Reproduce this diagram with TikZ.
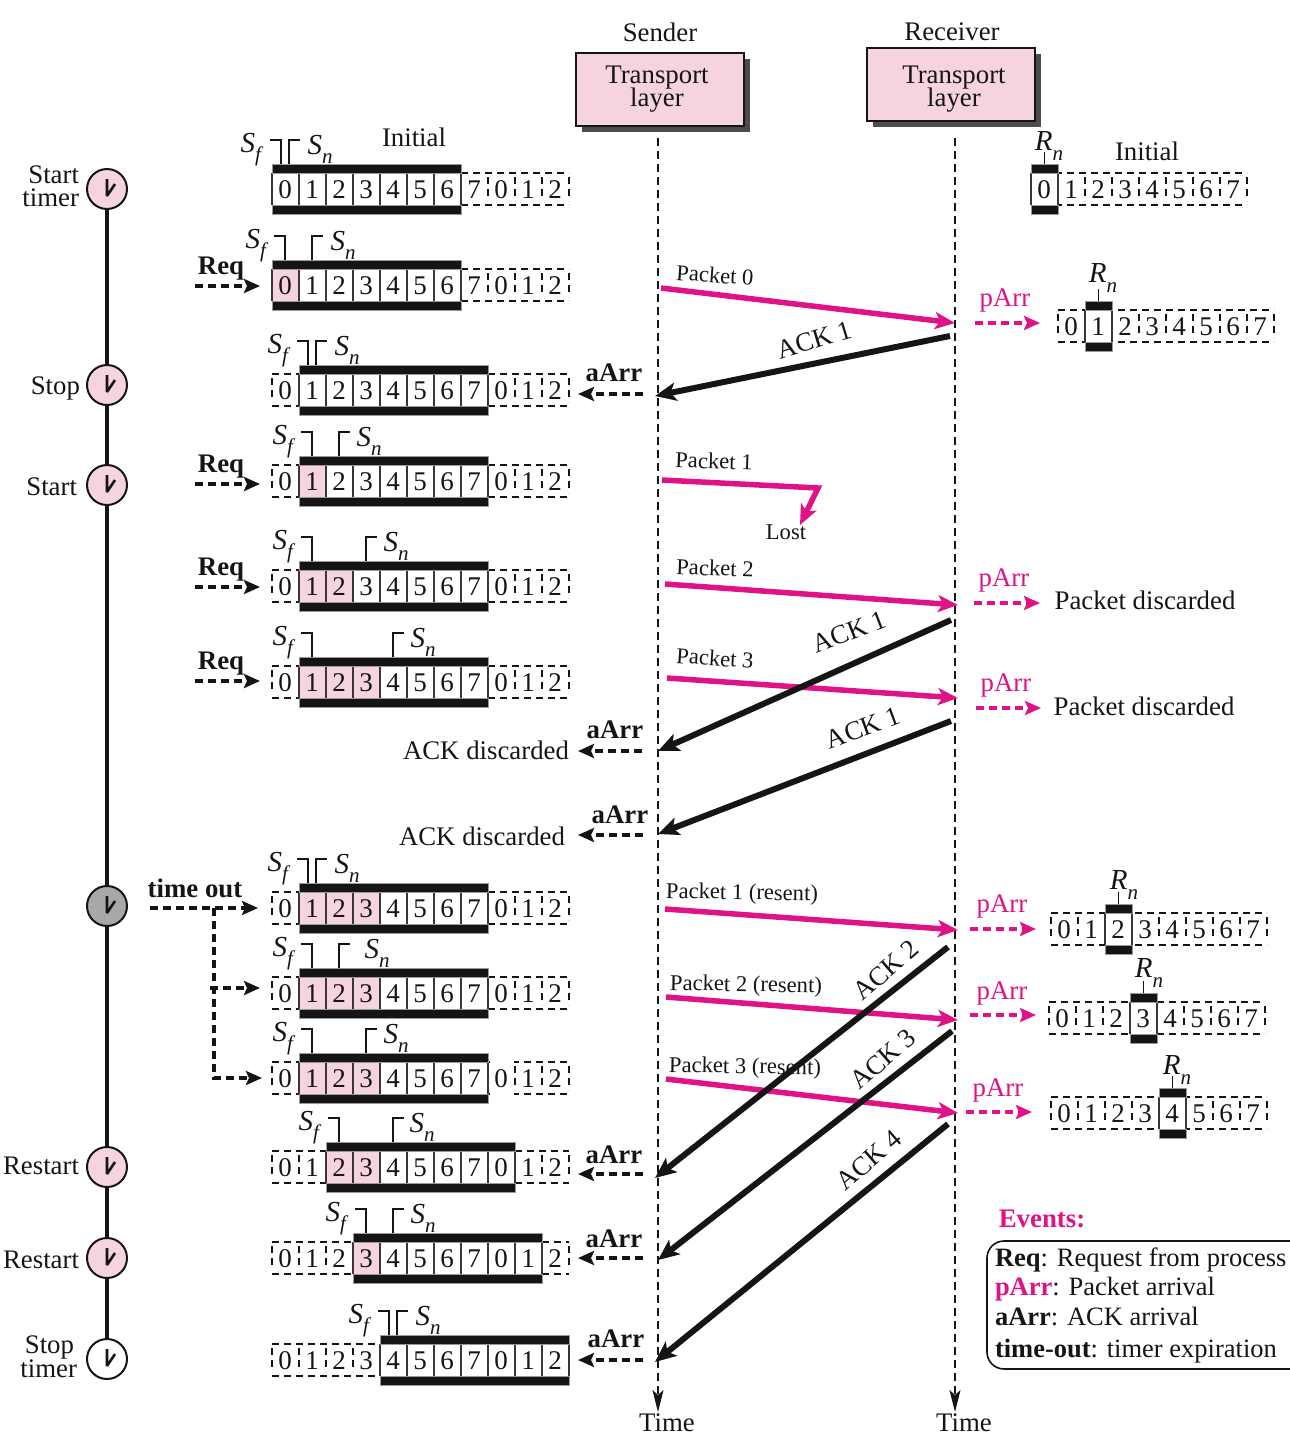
\documentclass[tikz,border=0pt]{standalone}
\usepackage{fontspec}
\setmainfont{Liberation Serif}
\usetikzlibrary{arrows.meta}
\definecolor{pk}{HTML}{F5D3E0}
\definecolor{mg}{HTML}{DF1286}
\definecolor{ink}{HTML}{151515}
\definecolor{clk}{HTML}{A8A8A8}
\newcommand\fs[1]{\fontsize{#1}{#1}\selectfont}
\newcommand\subv[2]{\textit{#1}\raisebox{-0.32em}{\textit{\fs{21}#2}}}
\tikzset{
  txt/.style={inner sep=0pt,outer sep=0pt,text=ink,font=\fs{26.8}},
  lab/.style={txt,font=\fs{22.6}},
  evb/.style={txt,font=\fs{26.8}\bfseries},
  evm/.style={txt,text=mg,font=\fs{26.8}},
  dig/.style={txt,font=\fs{27}},
  dsh/.style={draw=ink,line width=1.5pt,dash pattern=on 7pt off 5pt},
  cellb/.style={draw=ink!85,line width=1.8pt},
  bar/.style={fill=ink,draw=black!40,line width=1pt},
  brk/.style={draw=ink,line width=1.2pt},
  pkt/.style={draw=mg,line width=5.5pt,-{Stealth[length=20pt,width=17pt,inset=5pt]}},
  ack/.style={draw=ink,line width=6pt,-{Stealth[length=21pt,width=18pt,inset=5pt]}},
  evk/.style={draw=ink,line width=3.4pt,dash pattern=on 8pt off 5pt,-{Stealth[length=16pt,width=14pt,inset=3pt]}},
  evp/.style={draw=mg,line width=3.4pt,dash pattern=on 8pt off 5pt,-{Stealth[length=16pt,width=14pt,inset=3pt]}},
  life/.style={draw=ink,line width=1.4pt,dash pattern=on 8pt off 5pt,-{Stealth[length=22pt,width=11pt,inset=5pt]}},
  tbox/.style={draw=ink,fill=pk,line width=1.8pt},
  tshadow/.style={fill=black!70},
  clock/.style={circle,draw=ink,line width=2pt,minimum size=40pt,inner sep=0pt},
  hand/.style={draw=ink,line width=2.6pt,line join=bevel},
}
% sender window: centre y, first solid cell, end solid cell, pink from, pink end, Sf bar x, Sn bar x, Sf label x, Sn label x
\newcommand\swin[9]{%
  \pgfmathsetmacro\xa{272+27*#2}\pgfmathsetmacro\xb{272+27*#3}%
  \ifnum#2>0 \draw[dsh] (272,#1-16) -- (\xa,#1-16); \draw[dsh] (272,#1+16) -- (\xa,#1+16);\fi
  \ifnum#3<11 \draw[dsh] (\xb,#1-16) -- (569,#1-16); \draw[dsh] (\xb,#1+16) -- (569,#1+16);\fi
  \foreach \k in {0,...,11}{%
    \ifnum\k<#2 \pgfmathsetmacro\xk{272+27*\k}\draw[dsh] (\xk,#1-12) -- (\xk,#1+12);\fi
    \ifnum\k>#3 \pgfmathsetmacro\xk{272+27*\k}\draw[dsh] (\xk,#1-12) -- (\xk,#1+12);\fi
  }%
  \fill[white] (\xa,#1-16) rectangle (\xb,#1+16);
  \ifnum#5>#4 \pgfmathsetmacro\xp{272+27*#4}\pgfmathsetmacro\xq{272+27*#5}\fill[pk] (\xp,#1-16) rectangle (\xq,#1+16);\fi
  \foreach \k in {#2,...,#3}{\pgfmathsetmacro\xk{272+27*\k}\draw[cellb] (\xk,#1-16) -- (\xk,#1+16);}%
  \filldraw[bar] (\xa,#1-25) rectangle (\xb,#1-16);
  \filldraw[bar] (\xa,#1+16) rectangle (\xb,#1+25);
  \foreach \k in {0,...,10}{%
    \pgfmathsetmacro\xk{285+27*\k}\pgfmathtruncatemacro\dk{mod(\k,8)}%
    \node[dig] (c#1-\k) at (\xk,#1+0.8) {\dk};}%
  \draw[brk] (#6,#1-25) -- (#6,#1-49) -- (#6-11,#1-49);
  \draw[brk] (#7,#1-25) -- (#7,#1-49) -- (#7+11,#1-49);
  \node[txt,font=\fs{29}] (sf#1) at (#8,#1-39.5) {\subv{S}{f}};
  \node[txt,font=\fs{29}] (sn#1) at (#9,#1-39.5) {\subv{S}{n}};
}
% receiver window: centre y, left x, solid cell, Rn label position
\newcommand\rwin[4]{%
  \pgfmathsetmacro\xa{#2+27*#3}\pgfmathsetmacro\xb{\xa+27}\pgfmathsetmacro\xe{#2+216}%
  \draw[dsh] (#2,#1-16) -- (\xe,#1-16); \draw[dsh] (#2,#1+16) -- (\xe,#1+16);
  \foreach \k in {0,...,8}{\pgfmathsetmacro\xk{#2+27*\k}\draw[dsh] (\xk,#1-12) -- (\xk,#1+12);}%
  \fill[white] (\xa,#1-16) rectangle (\xb,#1+16);
  \draw[cellb] (\xa,#1-16) -- (\xa,#1+16); \draw[cellb] (\xb,#1-16) -- (\xb,#1+16);
  \filldraw[bar] (\xa,#1-25) rectangle (\xb,#1-16);
  \filldraw[bar] (\xa,#1+16) rectangle (\xb,#1+25);
  \foreach \k in {0,...,7}{\pgfmathsetmacro\xk{#2+13+27*\k}\node[dig] (r#1-\k) at (\xk,#1+0.8) {\k};}%
  \pgfmathsetmacro\xm{\xa+13.5}%
  \draw[brk] (\xm,#1-25) -- (\xm,#1-37);
  \node[txt,font=\fs{29}] (rn#1) at (#4) {\subv{R}{n}};
}
\newcommand\conn[6]{\coordinate (#2a) at (#3,#4);\coordinate (#2b) at (#5,#6);\draw[#1] (#2a) -- (#2b);}
\newcommand\clockat[3]{\node[clock,fill=#3] (#1) at (107,#2) {};
  \draw[hand] (107,#2-10) -- (107,#2+7) -- (115,#2-5);}
\begin{document}
\begin{tikzpicture}[x=1pt,y=-1pt]
\useasboundingbox (0,0) rectangle (1290,1449);
% transport boxes
\node[txt] (sender) at (660,32) {Sender};
\node[txt] (receiver) at (952,32) {Receiver};
\fill[tshadow] (582,59) rectangle (750,132);
\draw[tbox] (576,53) rectangle (744,126);
\node[txt] (tl1a) at (657,78) {Transport};
\node[txt] (tl1b) at (657,100) {layer};
\fill[tshadow] (873,54) rectangle (1041,127);
\draw[tbox] (867,48) rectangle (1035,121);
\node[txt] (tl2a) at (954,78) {Transport};
\node[txt] (tl2b) at (954,100) {layer};
% life lines
\coordinate (ls) at (658,138);\coordinate (lse) at (658,1412);
\coordinate (lr) at (955,138);\coordinate (lre) at (955,1412);
\draw[life] (ls) -- (lse);
\draw[life] (lr) -- (lre);
\node[txt] (time1) at (667,1423) {Time};
\node[txt] (time2) at (964,1423) {Time};
% timer line and clocks
\coordinate (tla) at (107,189);\coordinate (tlb) at (107,1359);
\draw[draw=ink,line width=4pt] (tla) -- (tlb);
\clockat{ck1}{189}{pk}
\clockat{ck2}{385}{pk}
\clockat{ck3}{485}{pk}
\clockat{ck4}{906}{clk}
\clockat{ck5}{1167}{pk}
\clockat{ck6}{1258}{pk}
\clockat{ck7}{1359}{white}
\node[txt,anchor=east] (t1a) at (79,175) {Start};
\node[txt,anchor=east] (t1b) at (79,198) {timer};
\node[txt,anchor=east] (t2) at (80,388) {Stop};
\node[txt,anchor=east] (t3) at (77,487) {Start};
\node[txt,anchor=east] (t5) at (79,1166) {Restart};
\node[txt,anchor=east] (t6) at (79,1260) {Restart};
\node[txt,anchor=east] (t7a) at (74,1347) {Stop};
\node[txt,anchor=east] (t7b) at (77,1369) {timer};
% sender windows
\swin{189}{0}{7}{0}{0}{281}{289}{252}{320}
\swin{285}{0}{7}{0}{1}{285}{312}{257}{343}
\swin{390}{1}{8}{0}{0}{308}{316}{279}{347}
\swin{481}{1}{8}{1}{2}{312}{339}{284}{369}
\swin{586}{1}{8}{1}{3}{312}{366}{284}{396}
\swin{682}{1}{8}{1}{4}{312}{393}{284}{423}
\swin{908}{1}{8}{1}{4}{308}{316}{279}{347}
\swin{993}{1}{8}{1}{4}{312}{339}{284}{377}
\swin{1078}{1}{8}{1}{4}{312}{366}{284}{396}
\fill[white] (489.5,1060) rectangle (514,1064);
\fill[white] (489.5,1092) rectangle (514,1096);
\swin{1167}{2}{9}{2}{4}{339}{393}{310}{422}
\swin{1258}{3}{10}{3}{4}{366}{393}{337}{423}
\swin{1360}{4}{11}{0}{0}{389}{397}{360}{428}
\node[txt] (init1) at (414,137) {Initial};
% receiver windows
\rwin{189}{1031}{0}{1049,146}
\rwin{326}{1058}{1}{1103,278}
\rwin{929}{1051}{2}{1124,885}
\rwin{1018}{1049}{3}{1149,973}
\rwin{1113}{1051}{4}{1177,1070}
\node[txt] (init2) at (1147,151) {Initial};
% packets
\conn{pkt}{p0}{661}{288}{955}{323}
\node[lab,rotate=-4] (lp0) at (715,275) {Packet 0};
\coordinate (p1a) at (662,480);\coordinate (p1m) at (818,488);\coordinate (p1b) at (800,525);
\draw[pkt,line join=miter] (p1a) -- (p1m) -- (p1b);
\node[lab,rotate=-2] (lp1) at (714,461) {Packet 1};
\node[lab] (lost) at (786,532) {Lost};
\conn{pkt}{p2}{665}{584}{958}{605}
\node[lab,rotate=-2] (lp2) at (715,568) {Packet 2};
\conn{pkt}{p3}{667}{678}{958}{698}
\node[lab,rotate=-4] (lp3) at (715,658) {Packet 3};
\conn{pkt}{p4}{665}{909}{958}{930}
\node[lab,rotate=-1] (lp4) at (742,894) {Packet 1 (resent)};
\conn{pkt}{p5}{666}{997}{958}{1020}
\node[lab,rotate=-1] (lp5) at (746,986) {Packet 2 (resent)};
\conn{pkt}{p6}{666}{1079}{958}{1113}
\node[lab,rotate=-1] (lp6) at (745,1068) {Packet 3 (resent)};
% acks
\conn{ack}{a0}{950}{336}{655}{396}
\node[txt,rotate=17] (la0) at (814,340) {ACK 1};
\conn{ack}{a1}{951}{620}{658}{751}
\node[txt,rotate=21] (la1) at (849,632) {ACK 1};
\conn{ack}{a2}{951}{721}{658}{834}
\node[txt,rotate=20] (la2) at (863,728) {ACK 1};
\conn{ack}{a3}{948}{947}{655}{1178}
\node[txt,rotate=41] (la3) at (886,970) {ACK 2};
\conn{ack}{a4}{952}{1031}{658}{1260}
\node[txt,rotate=41] (la4) at (883,1059) {ACK 3};
\conn{ack}{a5}{948}{1124}{655}{1362}
\node[txt,rotate=41] (la5) at (869,1160) {ACK 4};
% Req events
\conn{evk}{q1}{195}{286}{260}{286}\node[evb] (lq1) at (221,269) {Req};
\conn{evk}{q2}{195}{484}{260}{484}\node[evb] (lq2) at (221,467) {Req};
\conn{evk}{q3}{195}{587}{260}{587}\node[evb] (lq3) at (221,570) {Req};
\conn{evk}{q4}{195}{681}{260}{681}\node[evb] (lq4) at (221,664) {Req};
% aArr events
\conn{evk}{e1}{643}{394}{578}{394}\node[evb] (le1) at (614,373) {aArr};
\conn{evk}{e2}{642}{751}{578}{751}\node[evb] (le2) at (615,730) {aArr};
\node[txt] (d1) at (486,750) {ACK discarded};
\conn{evk}{e3}{643}{835}{578}{835}\node[evb] (le3) at (620,815) {aArr};
\node[txt] (d2) at (482,836) {ACK discarded};
\conn{evk}{e4}{643}{1174}{578}{1174}\node[evb] (le4) at (614,1155) {aArr};
\conn{evk}{e5}{643}{1258}{578}{1258}\node[evb] (le5) at (614,1239) {aArr};
\conn{evk}{e6}{643}{1360}{578}{1360}\node[evb] (le6) at (616,1339) {aArr};
% pArr events
\conn{evp}{v1}{975}{323}{1040}{323}\node[evm] (lv1) at (1005,301) {pArr};
\conn{evp}{v2}{974}{603}{1040}{603}\node[evm] (lv2) at (1004,580) {pArr};
\node[txt] (d3) at (1145,600) {Packet discarded};
\conn{evp}{v3}{976}{708}{1041}{708}\node[evm] (lv3) at (1006,685) {pArr};
\node[txt] (d4) at (1144,706) {Packet discarded};
\conn{evp}{v4}{970}{929}{1036}{929}\node[evm] (lv4) at (1002,906) {pArr};
\conn{evp}{v5}{970}{1015}{1036}{1015}\node[evm] (lv5) at (1002,993) {pArr};
\conn{evp}{v6}{966}{1112}{1032}{1112}\node[evm] (lv6) at (998,1090) {pArr};
% time out
\node[evb] (lto) at (195,888) {time out};
\conn{evk}{to1}{150}{908}{258}{908}
\coordinate (to2a) at (214,908);\coordinate (to2m) at (214,1078);\coordinate (to2b) at (262,1078);
\draw[evk] (to2a) -- (to2m) -- (to2b);
\conn{evk}{to3}{210}{988}{260}{988}
% legend
\node[txt,text=mg,font=\fs{26.8}\bfseries] (evt) at (1042,1219) {Events:};
\coordinate (ba) at (1290,1241);\coordinate (bb) at (987,1241);\coordinate (bc) at (987,1369);\coordinate (bd) at (1290,1369);
\draw[draw=ink,line width=1.6pt,rounded corners=17pt] (ba) -- (bb) -- (bc) -- (bd);
\node[txt,anchor=west,font=\fs{26.5}] (ev1) at (995,1260) {\textbf{Req}: Request from process};
\node[txt,anchor=west,font=\fs{26.5}] (ev2) at (995,1289) {\textcolor{mg}{\textbf{pArr}}: Packet arrival};
\node[txt,anchor=west,font=\fs{26.5}] (ev3) at (995,1316) {\textbf{aArr}: ACK arrival};
\node[txt,anchor=west,font=\fs{26.5}] (ev4) at (995,1351) {\textbf{time-out}: timer expiration};
\end{tikzpicture}
\end{document}
